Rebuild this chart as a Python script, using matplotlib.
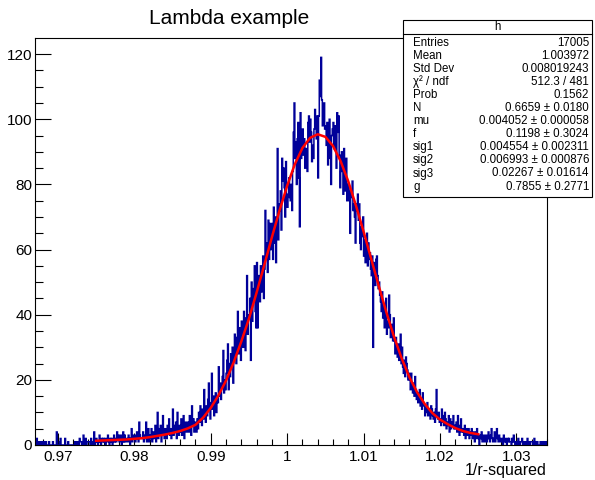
import numpy as np
import matplotlib
matplotlib.use("Agg")
import matplotlib.pyplot as plt
from matplotlib.ticker import MultipleLocator, FixedLocator

plt.rcParams['font.family'] = ['Liberation Sans', 'DejaVu Sans']

# histogram h: bins of 0.0001 starting at 0.967, counts per bin (10 bins per row)
x_start = 0.967
bin_width = 0.0001
count_rows = [
    [1, 0, 2, 1, 0, 0, 1, 0, 0, 1],
    [0, 1, 0, 0, 1, 0, 0, 0, 1, 0],
    [0, 0, 0, 1, 0, 0, 0, 0, 4, 0],
    [0, 0, 1, 2, 0, 0, 0, 0, 0, 2],
    [0, 0, 0, 1, 0, 0, 0, 0, 0, 0],
    [0, 0, 1, 0, 0, 1, 1, 0, 2, 1],
    [1, 0, 1, 3, 0, 1, 2, 0, 1, 1],
    [1, 1, 0, 2, 1, 0, 1, 4, 0, 1],
    [2, 1, 0, 1, 3, 1, 0, 2, 1, 2],
    [1, 2, 0, 1, 2, 3, 1, 0, 2, 1],
    [2, 0, 1, 3, 1, 2, 1, 4, 2, 3],
    [1, 2, 3, 0, 1, 4, 1, 3, 1, 2],
    [2, 1, 3, 2, 0, 2, 5, 1, 2, 3],
    [3, 1, 2, 4, 2, 1, 7, 3, 2, 2],
    [2, 4, 1, 3, 2, 7, 1, 2, 5, 1],
    [3, 2, 5, 1, 4, 2, 3, 6, 1, 4],
    [10, 2, 5, 3, 6, 1, 4, 9, 3, 2],
    [5, 3, 2, 6, 4, 8, 3, 5, 2, 4],
    [11, 3, 6, 4, 7, 2, 10, 5, 3, 6],
    [4, 8, 3, 6, 9, 2, 5, 7, 4, 6],
    [7, 4, 9, 5, 3, 12, 6, 8, 4, 7],
    [6, 4, 8, 5, 10, 7, 12, 9, 6, 11],
    [8, 17, 10, 7, 12, 9, 14, 19, 11, 8],
    [13, 22, 11, 15, 9, 12, 16, 10, 14, 13],
    [24, 15, 19, 14, 18, 21, 29, 16, 20, 17],
    [22, 26, 31, 17, 25, 21, 28, 24, 30, 19],
    [27, 34, 29, 25, 33, 41, 28, 30, 36, 26],
    [38, 32, 30, 41, 35, 29, 39, 52, 34, 40],
    [40, 45, 26, 50, 38, 44, 48, 55, 41, 36],
    [56, 36, 48, 52, 44, 55, 47, 51, 58, 45],
    [54, 72, 58, 62, 53, 69, 57, 68, 60, 65],
    [68, 57, 73, 62, 70, 56, 68, 91, 63, 74],
    [72, 78, 66, 88, 81, 85, 79, 70, 87, 74],
    [73, 77, 82, 76, 75, 80, 72, 84, 96, 105],
    [88, 93, 80, 94, 99, 82, 67, 102, 88, 94],
    [97, 89, 94, 85, 91, 90, 84, 99, 101, 93],
    [100, 96, 87, 92, 88, 97, 103, 99, 94, 101],
    [82, 101, 112, 107, 119, 106, 98, 103, 105, 97],
    [98, 92, 99, 86, 94, 100, 88, 80, 95, 97],
    [99, 91, 98, 97, 85, 102, 96, 101, 89, 79],
    [84, 90, 86, 77, 91, 83, 78, 88, 75, 80],
    [80, 75, 65, 78, 76, 81, 72, 74, 70, 62],
    [74, 72, 77, 69, 74, 62, 60, 67, 64, 70],
    [58, 63, 56, 60, 65, 55, 62, 57, 59, 54],
    [52, 58, 30, 56, 50, 49, 57, 58, 52, 48],
    [50, 46, 44, 41, 47, 39, 43, 36, 42, 45],
    [34, 38, 36, 46, 40, 33, 35, 37, 32, 39],
    [32, 28, 33, 30, 27, 31, 26, 29, 34, 25],
    [30, 24, 22, 26, 21, 27, 25, 23, 20, 22],
    [20, 17, 22, 18, 16, 19, 15, 21, 17, 14],
    [16, 13, 15, 17, 12, 14, 11, 16, 13, 12],
    [9, 12, 10, 13, 9, 11, 10, 8, 12, 11],
    [9, 8, 10, 7, 11, 17, 9, 8, 10, 7],
    [8, 6, 11, 7, 9, 6, 10, 8, 5, 7],
    [6, 9, 4, 8, 5, 7, 6, 9, 5, 6],
    [5, 7, 4, 9, 6, 3, 5, 8, 4, 5],
    [4, 3, 6, 2, 5, 4, 3, 5, 2, 4],
    [3, 5, 2, 4, 3, 1, 4, 2, 5, 3],
    [2, 0, 3, 2, 4, 1, 2, 3, 1, 2],
    [3, 1, 2, 4, 2, 1, 3, 5, 2, 1],
    [2, 4, 1, 3, 5, 2, 1, 3, 2, 1],
    [1, 2, 0, 3, 1, 2, 1, 0, 2, 1],
    [2, 1, 1, 0, 2, 1, 3, 1, 0, 1],
    [1, 0, 2, 1, 0, 1, 1, 2, 0, 1],
    [0, 1, 1, 0, 2, 0, 1, 0, 1, 1],
    [1, 0, 0, 2, 0, 1, 0, 1, 0, 0],
    [0, 1, 0, 0, 1, 0, 1, 0, 0, 1],
]

# fitted function, sampled every 0.001 over the fit range
fit_x_start, fit_x_step = 0.975, 0.001
fit_y = [1.3, 1.4, 1.5, 1.6, 1.7, 1.9, 2.1, 2.4, 2.8, 3.2, 3.7, 4.3, 5.1, 6.2,
         8.4, 11.4, 15.2, 19.8, 25.4, 31.8, 38.8, 46.8, 55.2, 63.8, 72.0, 79.6,
         86.2, 91.2, 94.3, 95.4, 94.6, 91.8, 87.1, 80.9, 73.5, 65.5, 57.1, 48.7,
         40.6, 33.1, 26.5, 20.8, 16.2, 12.6, 9.8, 7.8, 6.4, 5.2, 4.3, 3.7, 3.3]

stat_labels = ["Entries", "Mean", "Std Dev", "χ² / ndf", "Prob", "N", "mu", "f",
               "sig1", "sig2", "sig3", "g"]
stat_values = ["17005", "1.003972", "0.008019243", "512.3 / 481", "0.1562",
               "0.6659 ± 0.0180", "0.004052 ± 0.000058", "0.1198 ± 0.3024",
               "0.004554 ± 0.002311", "0.006993 ± 0.000876",
               "0.02267 ± 0.01614", "0.7855 ± 0.2771"]

counts = np.array([c for row in count_rows for c in row], dtype=float)
edges = x_start + bin_width * np.arange(len(counts) + 1)
fit_x = fit_x_start + fit_x_step * np.arange(len(fit_y))

W, H = 595, 480
fig = plt.figure(figsize=(W / 100, H / 100), dpi=100)
left, right, top, bottom = 35, 547, 38, 445
ax = fig.add_axes([left / W, 1 - bottom / H, (right - left) / W, (bottom - top) / H])

ax.stairs(counts, edges, color="#000099", lw=1.1, zorder=2)
ax.plot(fit_x, fit_y, color="red", lw=1.8, zorder=3)

ax.set_xlim(0.967, 1.034)
ax.set_ylim(0, 1.05 * counts.max())

ax.xaxis.set_major_locator(FixedLocator([0.97, 0.98, 0.99, 1.0, 1.01, 1.02, 1.03]))
ax.xaxis.set_minor_locator(MultipleLocator(0.002))
ax.set_xticklabels(["0.97", "0.98", "0.99", "1", "1.01", "1.02", "1.03"])
ax.yaxis.set_major_locator(MultipleLocator(20))
ax.yaxis.set_minor_locator(MultipleLocator(5))

ax.tick_params(axis="x", which="major", direction="in", length=8.6, width=0.8,
               labelsize=11, pad=3.5, top=False)
ax.tick_params(axis="x", which="minor", direction="in", length=4.3, width=0.8, top=False)
ax.tick_params(axis="y", which="major", direction="in", length=11.5, width=0.8,
               labelsize=11, pad=2, right=False)
ax.tick_params(axis="y", which="minor", direction="in", length=5.8, width=0.8, right=False)
for s in ax.spines.values():
    s.set_linewidth(0.8)

fig.text(229 / W, 1 - 18 / H, "Lambda example", ha="center", va="center", fontsize=15)
fig.text(547 / W, 1 - 470 / H, "1/r-squared", ha="right", va="center", fontsize=11.5)

# stats box
bx0, bx1, by0, by1 = 403, 592, 20, 197
box = plt.Rectangle((bx0 / W, 1 - by1 / H), (bx1 - bx0) / W, (by1 - by0) / H,
                    transform=fig.transFigure, facecolor="white", edgecolor="black",
                    lw=0.8, zorder=5)
fig.patches.append(box)
fig.add_artist(plt.Line2D([bx0 / W, bx1 / W], [1 - 34 / H, 1 - 34 / H],
                          transform=fig.transFigure, color="black", lw=0.8, zorder=6))
fig.text((bx0 + bx1) / 2 / W, 1 - 27 / H, "h", ha="center", va="center", fontsize=8.3, zorder=7)
for i, (lab, val) in enumerate(zip(stat_labels, stat_values)):
    y = 1 - (42.5 + 13.1 * i) / H
    fig.text(413 / W, y, lab, ha="left", va="center", fontsize=8.3, zorder=7)
    fig.text(589 / W, y, val, ha="right", va="center", fontsize=8.3, zorder=7)

fig.savefig("out.png", dpi=100)
